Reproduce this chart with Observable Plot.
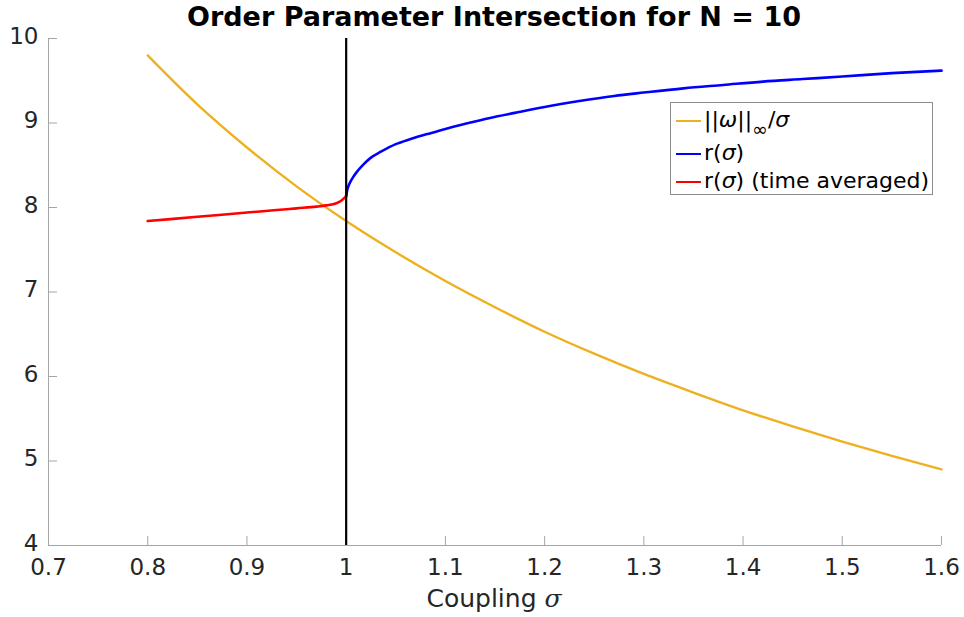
<!DOCTYPE html>
<html>
<head>
<meta charset="utf-8">
<script src="https://cdn.jsdelivr.net/npm/d3@7"></script>
<script src="https://cdn.jsdelivr.net/npm/@observablehq/plot@0.6"></script>
<style>
  html, body { margin: 0; padding: 0; background: white; }
  #wrap { position: relative; width: 964px; height: 617px; font-family: "DejaVu Sans", sans-serif; color: #262626; }
  #title { position: absolute; left: 0; width: 988px; top: 0px; text-align: center; font-weight: bold; font-size: 27px; color: #000; line-height: 34px; }
  #xlabel { position: absolute; left: 0; width: 988px; top: 584px; text-align: center; font-size: 25px; line-height: 30px; }
  #legend { position: absolute; left: 670px; top: 102px; width: 261px; height: 91px; border: 1px solid #8c8c8c; background: white; font-size: 22px; color: #000; }
  .row { position: absolute; left: 0; height: 28px; line-height: 28px; white-space: nowrap; }
  .sw { display: inline-block; width: 25px; height: 0; border-top: 2px solid; vertical-align: middle; margin: 0 3px 0 5px; }
  .g { font-style: italic; }
  sub { font-size: 19px; vertical-align: -9px; line-height: 0; }
  #xlabel .g { font-family: "DejaVu Serif", serif; }
</style>
</head>
<body>
<div id="wrap">
  <div id="chart"></div>
  <div id="title">Order Parameter Intersection for N = 10</div>
  <div id="xlabel">Coupling <span class="g">σ</span></div>
  <div id="legend"></div>
</div>
<script>
// Tick labels
const xTicks = [0.7, 0.8, 0.9, 1.0, 1.1, 1.2, 1.3, 1.4, 1.5, 1.6];
const yTicks = [4, 5, 6, 7, 8, 9, 10];

// ||omega||_inf / sigma
const sigmaOmega = [0.80, 0.85, 0.90, 0.95, 1.00, 1.05, 1.10, 1.15, 1.20, 1.25, 1.30, 1.35, 1.40, 1.45, 1.50, 1.55, 1.60];
const omegaNorm  = [9.80, 9.22, 8.71, 8.25, 7.84, 7.47, 7.13, 6.82, 6.53, 6.27, 6.03, 5.81, 5.60, 5.41, 5.23, 5.06, 4.90];

// r(sigma)
const sigmaR = [1.000, 1.001, 1.0025, 1.0045, 1.007, 1.010, 1.0175, 1.025, 1.035, 1.050, 1.065, 1.085, 1.100, 1.120, 1.145, 1.170, 1.200, 1.235, 1.270, 1.300, 1.340, 1.380, 1.420, 1.460, 1.500, 1.550, 1.600];
const rValues = [8.13, 8.20, 8.26, 8.31, 8.36, 8.41, 8.51, 8.59, 8.66, 8.75, 8.81, 8.88, 8.93, 8.99, 9.06, 9.12, 9.19, 9.26, 9.32, 9.36, 9.41, 9.45, 9.49, 9.52, 9.55, 9.59, 9.62];

// r(sigma) time averaged
const sigmaAvg = [0.800, 0.850, 0.900, 0.930, 0.950, 0.970, 0.980, 0.990, 0.995, 0.998, 1.000];
const rAvg     = [7.84, 7.89, 7.94, 7.97, 7.99, 8.01, 8.025, 8.05, 8.08, 8.11, 8.14];

// critical coupling
const sigmaCrit = [1.0];

const seriesNames = ["||ω||∞/σ", "r(σ)", "r(σ) (time averaged)"];
const seriesColors = ["#EDB120", "#0000FF", "#FF0000"];

const omegaData = sigmaOmega.map((s, i) => ({s, v: omegaNorm[i]}));
const rData = sigmaR.map((s, i) => ({s, v: rValues[i]}));
const avgData = sigmaAvg.map((s, i) => ({s, v: rAvg[i]}));

const axisGray = "#a6a6a6";

const chart = Plot.plot({
  width: 964,
  height: 617,
  marginLeft: 48,
  marginRight: 23,
  marginTop: 38,
  marginBottom: 72,
  x: {domain: [0.7, 1.6]},
  y: {domain: [4, 10]},
  style: {fontFamily: "DejaVu Sans", fontSize: "23px", color: "#262626", background: "white", overflow: "visible"},
  marks: [
    Plot.ruleY([4], {stroke: axisGray, strokeWidth: 1}),
    Plot.ruleX([0.7], {stroke: axisGray, strokeWidth: 1}),
    Plot.axisX({ticks: xTicks, tickSize: -9, stroke: axisGray, tickFormat: () => "", label: null}),
    Plot.axisX({ticks: xTicks, tickSize: 0, tickPadding: 13, tickFormat: d => String(d), label: null, fill: "#262626", fontSize: 23}),
    Plot.axisY({ticks: yTicks, tickSize: -9, stroke: axisGray, tickFormat: () => "", label: null}),
    Plot.axisY({ticks: yTicks, tickSize: 0, tickPadding: 10, dy: -2, tickFormat: d => String(d), label: null, fill: "#262626", fontSize: 23}),
    Plot.line(omegaData, {x: "s", y: "v", stroke: seriesColors[0], strokeWidth: 2.4, curve: "monotone-x"}),
    Plot.line(rData, {x: "s", y: "v", stroke: seriesColors[1], strokeWidth: 2.6, curve: "monotone-x"}),
    Plot.line(avgData, {x: "s", y: "v", stroke: seriesColors[2], strokeWidth: 2.6, curve: "monotone-x"}),
    Plot.ruleX(sigmaCrit, {stroke: "black", strokeWidth: 2.2})
  ]
});
document.getElementById("chart").appendChild(chart);

// Legend
const legend = document.getElementById("legend");
const labelsHtml = [
  '||<span class="g">ω</span>||<sub>∞</sub>/<span class="g">σ</span>',
  'r(<span class="g">σ</span>)',
  'r(<span class="g">σ</span>) (time averaged)'
];
const rowTops = [3, 36, 64];
seriesNames.forEach((name, i) => {
  const row = document.createElement("div");
  row.className = "row";
  row.style.top = rowTops[i] + "px";
  row.title = name;
  row.innerHTML = `<span class="sw" style="border-color:${seriesColors[i]}"></span>` + labelsHtml[i];
  legend.appendChild(row);
});
</script>
</body>
</html>
